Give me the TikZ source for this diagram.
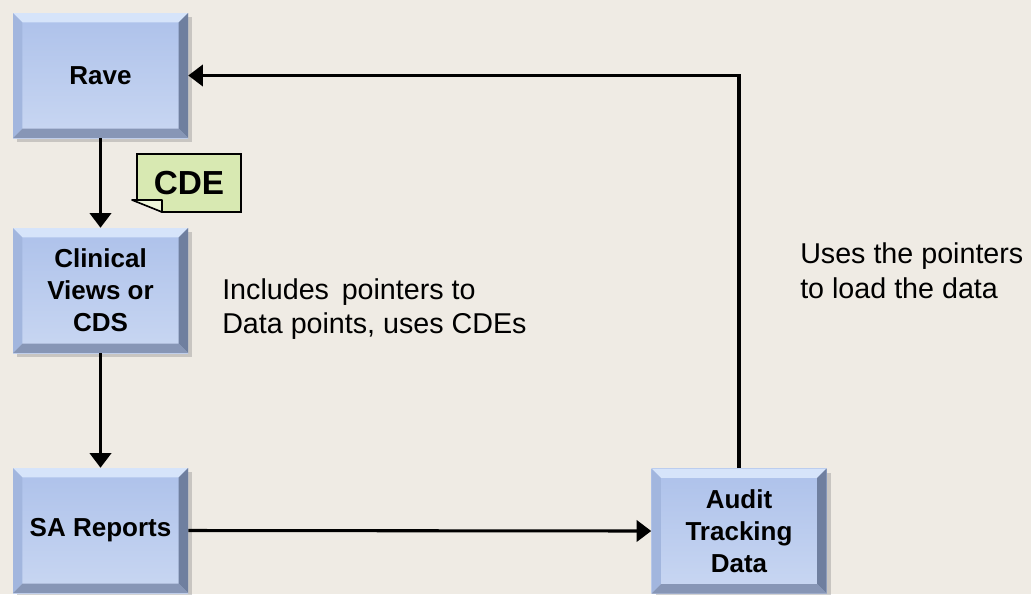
\documentclass[tikz,border=0pt]{standalone}
\usepackage{fontspec}
\setmainfont{Liberation Sans}
\usetikzlibrary{arrows.meta,shadows}
\definecolor{bg}{HTML}{EFEBE4}
\definecolor{boxtop}{HTML}{ADC1EA}
\definecolor{boxbot}{HTML}{C9D7F2}
\definecolor{bevtop}{HTML}{D6E4FA}
\definecolor{bevleft}{HTML}{A2B6DE}
\definecolor{bevright}{HTML}{6F7F9F}
\definecolor{bevbot}{HTML}{8796B6}
\definecolor{notefill}{HTML}{D8E9B2}
\definecolor{notefold}{HTML}{EEF6DA}
\tikzset{
  bbox/.style={rectangle, minimum width=131.25pt, minimum height=93.75pt,
    top color=boxtop, bottom color=boxbot, draw=none, align=center,
    font=\bfseries\fontsize{19.5}{24}\selectfont,
    drop shadow={shadow xshift=3pt, shadow yshift=-3pt, opacity=0.35},
    path picture={
      \fill[bevtop] (path picture bounding box.north west) -- (path picture bounding box.north east) -- ([xshift=-7pt,yshift=-7pt]path picture bounding box.north east) -- ([xshift=7pt,yshift=-7pt]path picture bounding box.north west) -- cycle;
      \fill[bevleft] (path picture bounding box.north west) -- ([xshift=7pt,yshift=-7pt]path picture bounding box.north west) -- ([xshift=7pt,yshift=7pt]path picture bounding box.south west) -- (path picture bounding box.south west) -- cycle;
      \fill[bevright] (path picture bounding box.north east) -- ([xshift=-7pt,yshift=-7pt]path picture bounding box.north east) -- ([xshift=-7pt,yshift=7pt]path picture bounding box.south east) -- (path picture bounding box.south east) -- cycle;
      \fill[bevbot] (path picture bounding box.south west) -- ([xshift=7pt,yshift=7pt]path picture bounding box.south west) -- ([xshift=-7pt,yshift=7pt]path picture bounding box.south east) -- (path picture bounding box.south east) -- cycle;
    }},
  conn/.style={line width=2.3pt, -{Triangle[length=11pt,width=16pt]}},
  lbl/.style={align=left, font=\fontsize{21.5}{26}\selectfont, inner sep=0pt}
}
\begin{document}
\begin{tikzpicture}[x=0.75pt,y=-0.75pt]
\fill[bg] (0,0) rectangle (1031,594);
\useasboundingbox (0,0) rectangle (1031,594);
\node[bbox] (rave) at (100.5,75.5) {Rave};
\node[bbox] (clin) at (100.5,290.5) {Clinical\\Views or\\CDS};
\node[bbox] (sa) at (100.5,530.5) {SA Reports};
\node[bbox] (audit) at (739,531) {Audit\\Tracking\\Data};
% note
\fill[notefill, draw=black, line width=1.2pt] (137,154) -- (241,154) -- (241,212) -- (162,212) -- (137,200) -- cycle;
\fill[notefold, draw=black, line width=1.2pt, line join=round] (132,200) -- (162,200) -- (162,212) -- cycle;
\node[font=\bfseries\fontsize{25}{30}\selectfont, inner sep=0pt] (cde) at (189,183) {CDE};
% connectors
\draw[conn] (rave.south) -- (clin.north);
\draw[conn] (clin.south) -- (sa.north);
\draw[conn] (sa.east) -- (audit.west);
\draw[conn] (audit.north) |- (rave.east);
% labels
\node[lbl, anchor=west] (inc) at (222,309) {Includes\, pointers to\\Data points, uses CDEs};
\node[lbl, anchor=west] (uses) at (800,271) {Uses the pointers\\to load the data};
\end{tikzpicture}
\end{document}
